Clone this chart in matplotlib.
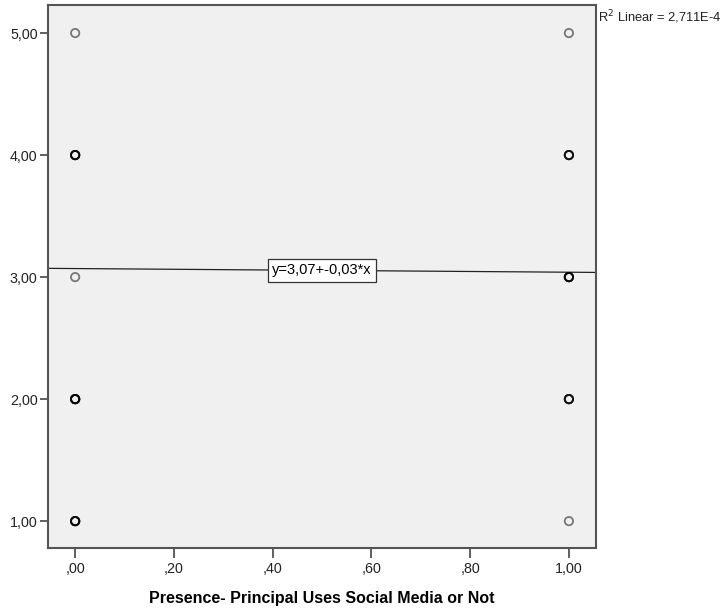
import numpy as np
import matplotlib
matplotlib.use("Agg")
import matplotlib.pyplot as plt
from matplotlib.ticker import FuncFormatter

plt.rcParams['font.family'] = ['Liberation Sans', 'DejaVu Sans']

# distinct (x, y) responses and how many cases sit on each one
x_vals = [0, 0, 0, 0, 0, 1, 1, 1, 1, 1]
y_vals = [1, 2, 3, 4, 5, 1, 2, 3, 4, 5]
counts = [5, 6, 1, 5, 1, 1, 4, 5, 4, 1]

intercept = 3.07
slope = -0.03
r2_text = "R$^2$ Linear = 2,711E-4"
fit_label = "y=3,07+-0,03*x"
xlabel = "Presence- Principal Uses Social Media or Not"
x_ticks = [0, 0.2, 0.4, 0.6, 0.8, 1.0]
y_ticks = [1, 2, 3, 4, 5]


def comma_fmt(v, pos):
    s = f"{v:.2f}".replace(".", ",")
    if s.startswith("0,"):
        s = s[1:]
    return s


fig = plt.figure(figsize=(7.24, 6.09), dpi=100)
ax = fig.add_axes([0.0663, 0.1002, 0.757, 0.8916])
ax.set_facecolor("#f0f0f0")

xs = np.repeat(x_vals, counts)
ys = np.repeat(y_vals, counts)
ax.scatter(xs, ys, s=36, facecolors="none", edgecolors="black",
           linewidths=1.3, alpha=0.5, zorder=3)

xlim = (-0.055, 1.055)
ax.set_xlim(*xlim)
ax.set_ylim(0.78, 5.23)

lx = np.array(xlim)
ax.plot(lx, intercept + slope * lx, color="#222222", lw=0.9, zorder=2)
ax.text(0.5, intercept + slope * 0.5, fit_label, ha="center", va="center",
        fontsize=10.5, zorder=4,
        bbox=dict(boxstyle="square,pad=0.3", fc="white", ec="#333333", lw=0.9))

ax.set_xticks(x_ticks)
ax.set_yticks(y_ticks)
ax.xaxis.set_major_formatter(FuncFormatter(comma_fmt))
ax.yaxis.set_major_formatter(FuncFormatter(comma_fmt))
ax.tick_params(direction="out", length=6, width=1.2, color="#444444",
               labelsize=10.3, labelcolor="#222222", pad=1.5)
ax.tick_params(axis="x", length=7, pad=3)

for sp in ax.spines.values():
    sp.set_color("#555555")
    sp.set_linewidth(1.5)

ax.set_xlabel(xlabel, fontsize=11.5, fontweight="bold", labelpad=11)

fig.text(0.826, 0.987, r2_text, ha="left", va="top", fontsize=9.3, color="#222222")

fig.savefig("out.png", dpi=100)
